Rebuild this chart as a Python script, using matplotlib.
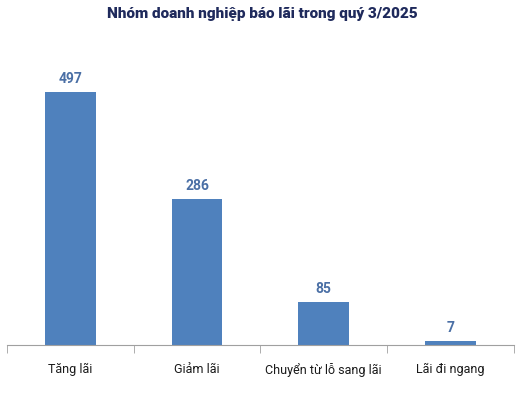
import numpy as np
import matplotlib.pyplot as plt

# Dữ liệu
nhom = ["Tăng lãi", "Giảm lãi", "Chuyển từ lỗ sang lãi", "Lãi đi ngang"]
so_dn = [497, 286, 85, 7]

plt.rcParams['font.family'] = ['Roboto', 'DejaVu Sans']

fig = plt.figure(figsize=(5.2, 4.11), dpi=100)
ax = fig.add_axes([0.0135, 0.1606, 0.9745, 0.743])

x = np.arange(len(nhom))
bars = ax.bar(x, so_dn, width=0.4, color="#4F81BD")

for xi, v in zip(x, so_dn):
    ax.text(xi, v + 12, str(v), ha="center", va="bottom",
            fontsize=10, fontweight="bold", color="#4A6FA5")

ax.set_xlim(-0.5, len(nhom) - 0.5)
ax.set_ylim(0, 600)
ax.set_xticks(x)
ax.set_xticklabels(nhom, fontsize=9, color="#1a1a1a")
ax.set_xticks(np.arange(-0.5, len(nhom)), minor=True)
ax.tick_params(axis="x", which="major", length=0, pad=13)
ax.tick_params(axis="x", which="minor", length=5.5, color="#A0A0A0", direction="out")
ax.set_yticks([])
for s in ["top", "right", "left"]:
    ax.spines[s].set_visible(False)
ax.spines["bottom"].set_color("#A0A0A0")

fig.suptitle("Nhóm doanh nghiệp báo lãi trong quý 3/2025", x=0.505, y=0.982,
             fontsize=11, fontweight="heavy", color="#1F2A5C", va="top")

fig.savefig("out.png", dpi=100)
